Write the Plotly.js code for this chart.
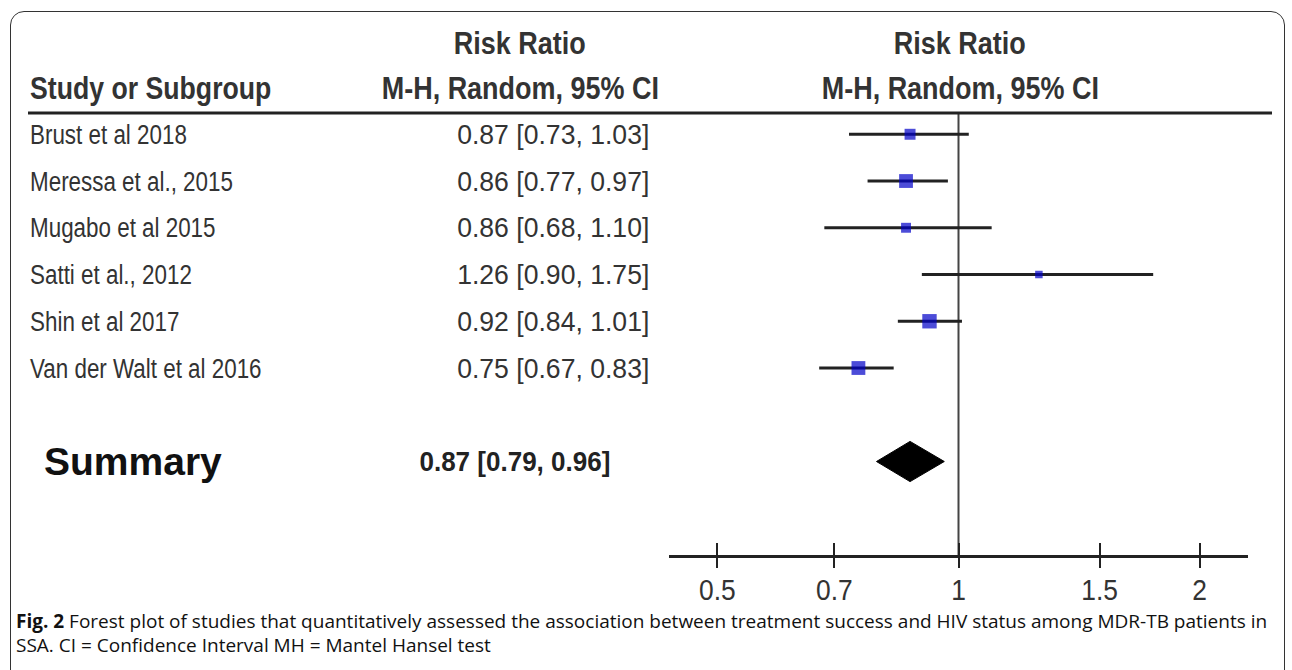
<!DOCTYPE html>
<html>
<head>
<meta charset="utf-8">
<script src="https://cdn.plot.ly/plotly-3.0.1.min.js"></script>
<style>
  html, body { margin: 0; padding: 0; background: #fff; }
  #wrap { position: relative; width: 1292px; height: 670px; overflow: hidden; }
  #box { position: absolute; left: 10px; top: 11px; width: 1275px; height: 720px;
         border: 1.5px solid #333; border-radius: 14px; box-sizing: border-box; }
  #chart { position: absolute; left: 0; top: 0; width: 1292px; height: 670px; }
</style>
</head>
<body>
<div id="wrap">
  <div id="box"></div>
  <div id="chart"></div>
</div>
<script>
// ---- data ----
const studies = ["Brust et al 2018", "Meressa et al., 2015", "Mugabo et al 2015",
                 "Satti et al., 2012", "Shin et al 2017", "Van der Walt et al 2016"];
const rr      = [0.87, 0.86, 0.86, 1.26, 0.92, 0.75];
const ciLow   = [0.73, 0.77, 0.68, 0.90, 0.84, 0.67];
const ciHigh  = [1.03, 0.97, 1.10, 1.75, 1.01, 0.83];
const weightPct = [13.9, 22.1, 11.4, 6.5, 24.0, 22.1];   // estimated from square areas
const summaryLabel = "Summary";
const summaryRR   = 0.87;
const summaryLow  = 0.79;
const summaryHigh = 0.96;
const tickVals   = [0.5, 0.7, 1, 1.5, 2];
const tickLabels = ["0.5", "0.7", "1", "1.5", "2"];
const nullValue  = 1;
const headerTop    = "Risk Ratio";
const headerBottom = "M-H, Random, 95% CI";
const headerStudy  = "Study or Subgroup";
const captionLine1 = "<b>Fig. 2</b> Forest plot of studies that quantitatively assessed the association between treatment success and HIV status among MDR-TB patients in";
const captionLine2 = "SSA. CI = Confidence Interval MH = Mantel Hansel test";

// ---- layout geometry (pixels) ----
const W = 1292, H = 670;
const plotL = 669, plotR = 1248, plotT = 113, plotB = 555;
const yRange = [10, 0.545];
const rowY = studies.map((_, i) => i + 1);
const summaryY = studies.length + 2;
const px2x = px => (px - plotL) / (plotR - plotL);
const py2y = py => (plotB - py) / (plotB - plotT);

const SANS  = "Liberation Sans, Arial, sans-serif";
const CAPF  = "Open Sans, Noto Sans, sans-serif";
const fmt = (a, b, c) => `${a.toFixed(2)} [${b.toFixed(2)}, ${c.toFixed(2)}]`;

// CI segments
const ciX = [], ciY = [];
studies.forEach((_, i) => { ciX.push(ciLow[i], ciHigh[i], null); ciY.push(rowY[i], rowY[i], null); });

const halfH = 0.43;
const traces = [
  { x: [nullValue, nullValue], y: [yRange[1], yRange[0]], mode: "lines",
    line: { color: "#444", width: 2 }, hoverinfo: "skip", showlegend: false },
  { x: ciX, y: ciY, mode: "lines", line: { color: "#222", width: 3 },
    hoverinfo: "skip", showlegend: false },
  { x: rr, y: rowY, mode: "markers", hoverinfo: "skip", showlegend: false,
    marker: { symbol: "square", color: "#0000c8", size: weightPct.map(w => Math.sqrt(w) * 2.94),
              line: { width: 0 } } },
  { x: [summaryLow, summaryRR, summaryHigh, summaryRR, summaryLow],
    y: [summaryY, summaryY - halfH, summaryY, summaryY + halfH, summaryY],
    mode: "lines", fill: "toself", fillcolor: "#000", line: { color: "#000", width: 1 },
    hoverinfo: "skip", showlegend: false },
  { x: [tickVals[0]], y: [summaryY], xaxis: "x2", mode: "markers",
    marker: { opacity: 0 }, hoverinfo: "skip", showlegend: false }
];

const ann = [], annScale = [];
const txt = (text, x, xref, y, yref, xanchor, size, family, color, sx) => {
  ann.push({ text, x, xref, y, yref, xanchor, yanchor: "middle", showarrow: false,
             font: { size, family, color } });
  annScale.push(sx);
};

// headers (condensed bold)
txt(`<b>${headerStudy}</b>`, px2x(28), "paper", py2y(88.5), "paper", "left", 31, SANS, "#333", 0.86);
[520, 960].forEach(cx => {
  txt(`<b>${headerTop}</b>`, px2x(cx), "paper", py2y(43.5), "paper", "center", 31, SANS, "#333", 0.87);
  txt(`<b>${headerBottom}</b>`, px2x(cx), "paper", py2y(88.5), "paper", "center", 31, SANS, "#333", 0.87);
});

// rows (condensed regular)
studies.forEach((s, i) => {
  txt(s, px2x(28), "paper", rowY[i], "y", "left", 28, SANS, "#333", 0.8);
  txt(fmt(rr[i], ciLow[i], ciHigh[i]), px2x(651), "paper", rowY[i], "y", "right", 28, SANS, "#333", 0.95);
});
txt(`<b>${summaryLabel}</b>`, px2x(42), "paper", summaryY, "y", "left", 39, SANS, "#111", 1);
txt(`<b>${fmt(summaryRR, summaryLow, summaryHigh)}</b>`, px2x(612), "paper", summaryY, "y", "right", 28, SANS, "#222", 0.93);

// caption
txt(captionLine1, px2x(14), "paper", py2y(621), "paper", "left", 19, CAPF, "#111", 1);
txt(captionLine2, px2x(14), "paper", py2y(645), "paper", "left", 19, CAPF, "#111", 1);

const xRange = [-0.3614, 0.3614];
const layout = {
  width: W, height: H,
  margin: { l: plotL, r: W - plotR, t: plotT, b: H - plotB, pad: 0 },
  paper_bgcolor: "rgba(0,0,0,0)", plot_bgcolor: "rgba(0,0,0,0)",
  showlegend: false,
  xaxis: { type: "log", range: xRange, tickvals: tickVals, ticktext: tickLabels,
           ticks: "inside", ticklen: 12, tickwidth: 2, tickcolor: "#222",
           ticklabelstandoff: 6,
           showline: true, linewidth: 3, linecolor: "#222",
           showgrid: false, zeroline: false, fixedrange: true,
           tickfont: { family: SANS, size: 30, color: "#333" } },
  xaxis2: { type: "log", range: xRange, tickvals: tickVals, overlaying: "x", anchor: "y",
            side: "bottom", ticks: "outside", ticklen: 12, tickwidth: 2, tickcolor: "#222",
            showticklabels: false, showline: false, showgrid: false, zeroline: false },
  yaxis: { range: yRange, showgrid: false, zeroline: false, showticklabels: false,
           showline: false, ticks: "", fixedrange: true },
  shapes: [
    { type: "line", xref: "paper", yref: "paper", x0: px2x(28), x1: px2x(1272), y0: 1, y1: 1,
      line: { color: "#222", width: 3 } }
  ],
  annotations: ann
};

// horizontally condense an already-placed SVG text about its anchor, keeping any existing transform
function condense(el, sx, anchor) {
  if (!el || sx === 1) return;
  const b = el.getBBox();
  const ax = anchor === "left" ? b.x : anchor === "right" ? b.x + b.width : b.x + b.width / 2;
  const prev = el.getAttribute("transform") || "";
  el.setAttribute("transform", `${prev} translate(${ax},0) scale(${sx},1) translate(${-ax},0)`.trim());
}

const gd = document.getElementById("chart");
Plotly.newPlot(gd, traces, layout, { staticPlot: true, displayModeBar: false }).then(() => {
  gd.querySelectorAll("g.annotation").forEach(g => {
    const i = +g.getAttribute("data-index");
    condense(g.querySelector("text.annotation-text"), annScale[i], ann[i].xanchor);
  });
  gd.querySelectorAll("g.xtick text").forEach(t => condense(t, 0.88, "center"));
});
</script>
</body>
</html>
